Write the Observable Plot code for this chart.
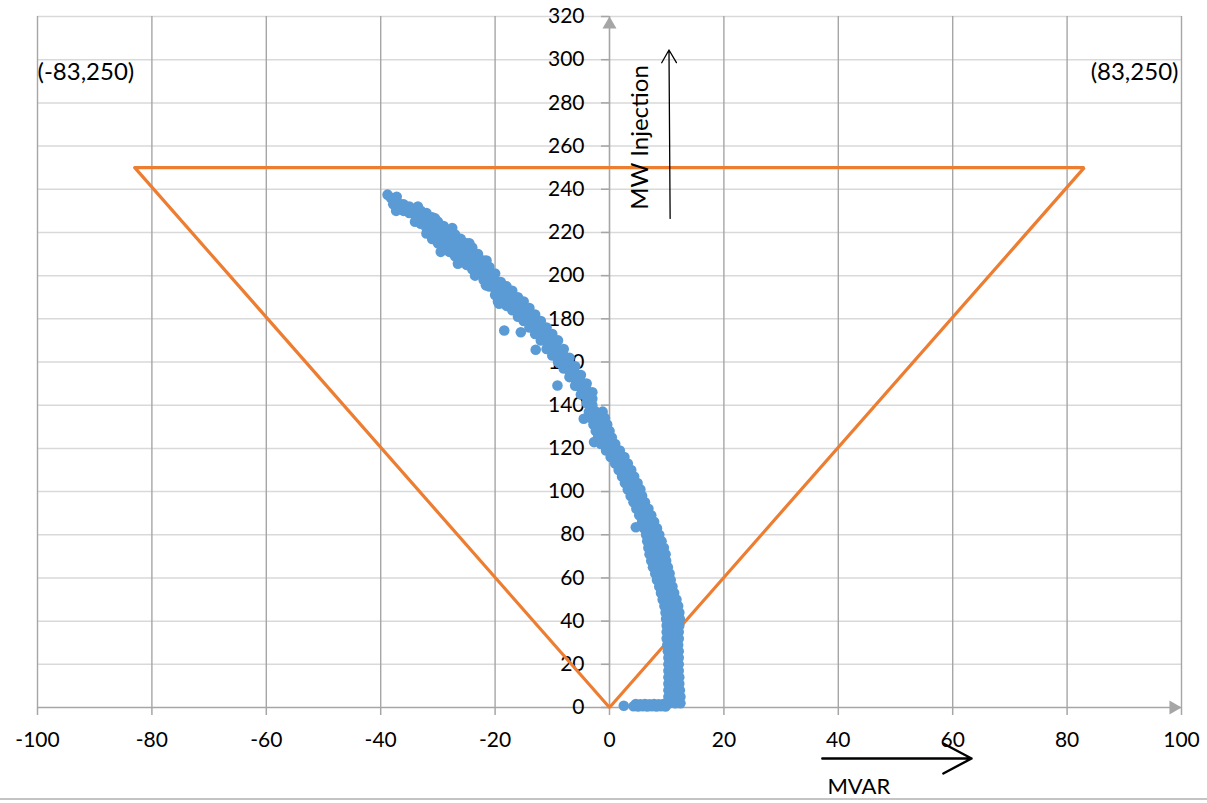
<!DOCTYPE html>
<html>
<head>
<meta charset="utf-8">
<script src="https://cdn.jsdelivr.net/npm/d3@7"></script>
<script src="https://cdn.jsdelivr.net/npm/@observablehq/plot@0.6"></script>
<style>
  body { margin: 0; background: #fff; }
  #chart svg { display: block; }
  .bottom-rule { width: 1207px; height: 0; border-top: 2px solid #c4c4c4; }
</style>
</head>
<body>
<div id="chart"></div>
<div class="bottom-rule"></div>
<script>
// ---- data ----
const xDomain = [-100, 100];
const yDomain = [0, 320];
const xTicks = [-100, -80, -60, -40, -20, 0, 20, 40, 60, 80, 100];
const yTicks = [0, 20, 40, 60, 80, 100, 120, 140, 160, 180, 200, 220, 240, 260, 280, 300, 320];
const boundary = [[-83, 250], [83, 250], [0, 0], [-83, 250]];
const cornerLabels = ["(-83,250)", "(83,250)"];
const xTitle = "MVAR";
const yTitle = "MW Injection";
// measured [MVAR, MW] samples
const readings = [
  [-38.8,237.5],[-38.2,236],[-37.8,233],[-37.2,236.5],[-37.3,230],[-36.5,233],
  [-36,233],[-36,230],[-35,232],[-35,229],[-34,231],[-34,228],[-34,225],
  [-33.5,232],[-33,230],[-33,227],[-33,224],
  [-32,229],[-32,225],[-32,222],[-32,219.5],
  [-31,227],[-31,223],[-31,220],[-31,217],
  [-30.5,226.5],[-30,225],[-30,221],[-30,218],[-30,215],
  [-29.5,211],[-29,223],[-29,220],[-29,216],[-29,213],
  [-28,221],[-28,218],[-28,214],[-28,211],
  [-27.5,222],[-27,219],[-27,215],[-27,212],[-27,209],
  [-26.5,205.5],[-26,217],[-26,213],[-26,210],[-26,207],
  [-25,215],[-25,211],[-25,208],[-25,205],
  [-24.5,215],[-24,213],[-24,209],[-24,206],[-24,203],
  [-23.5,200],[-23,210],[-23,207],[-23,204],[-23,201],
  [-22,207],[-22,204],[-22,201],[-22,198],
  [-21.5,207],[-21,204],[-21,201],[-21,198],[-21,195],
  [-20,201],[-20,198],[-20,194],[-20,191],
  [-19.5,188],[-19,197],[-19,194],[-19,191],[-19,188],
  [-18,195],[-18,192],[-18,189],[-18,186],
  [-17,193],[-17,190],[-17,187],[-17,184],
  [-16,190],[-16,187],[-16,184],[-16,181],
  [-15,188],[-15,185],[-15,182],[-15,179],
  [-14,185],[-14,182],[-14,179],[-14,176],
  [-13,182],[-13,179],[-13,176],[-13,173],
  [-12,179],[-12,176],[-12,173],[-12,170],
  [-11,176],[-11,173],[-11,170],[-11,166],
  [-10,173],[-10,170],[-10,166],[-10,163],
  [-9,170],[-9,166],[-9,163],[-9,160],
  [-8,166],[-8,163],[-8,160],[-8,157],
  [-7,162],[-7,159],[-7,156],[-7,153],
  [-6,158],[-6,155],[-6,152],[-6,149],
  [-5,154],[-5,151],[-5,148],[-5,145],
  [-4,150],[-4,147],[-4,144],[-4,141],
  [-3,146],[-3,143],[-3,140],
  [-3.6,137],[-2.4,137],[-1.2,137],
  [-3.2,134],[-2.0,134],[-0.8,134],
  [-2.8,131],[-1.6,131],[-0.4,131],
  [-2.4,128],[-1.2,128],[0,128],
  [-2.0,125],[-0.8,125],[0.4,125],
  [-1.5,122],[-0.3,122],[1.0,122],
  [-0.6,119],[0.6,119],[1.8,119],
  [0.2,116],[1.4,116],[2.6,116],
  [1.0,113],[2.1,113],[3.2,113],
  [1.6,110],[2.7,110],[3.8,110],
  [2.2,107],[3.3,107],[4.3,107],
  [2.7,104],[3.8,104],[4.9,104],
  [3.2,101],[4.3,101],[5.4,101],
  [3.7,98],[4.8,98],[5.7,98],
  [4.2,95],[5.3,95],[6.2,95],
  [4.7,92],[5.8,92],[6.8,92],
  [5.2,89],[6.3,89],[7.3,89],
  [5.7,86],[6.8,86],[7.8,86],
  [4.6,83.5],[6.0,83],[7.2,83],[8.3,83],
  [6.4,80],[7.6,80],[8.7,80],
  [6.6,77],[7.9,77],[9.1,77],
  [6.8,74],[8.1,74],[9.5,74],
  [7.0,71],[8.4,71],[9.8,71],
  [7.3,68],[8.6,68],[9.9,68],
  [7.6,65],[8.9,65],[10.2,65],
  [8.0,62],[9.2,62],[10.5,62],
  [8.3,59],[9.5,59],[10.7,59],
  [8.7,56],[9.9,56],[11.0,56],
  [9.0,53],[10.2,53],[11.3,53],
  [9.3,50],[10.5,50],[11.7,50],
  [9.6,47],[10.8,47],[12.0,47],
  [9.8,44],[11.0,44],[12.2,44],
  [9.9,41],[11.1,41],[12.3,41],
  [10.0,38],[11.1,38],[12.2,38],
  [10.0,35],[11.1,35],[12.1,35],
  [10.0,32],[11.1,32],[12.1,32],
  [10.1,29],[11.1,29],[12.0,29],
  [10.2,26],[11.2,26],[12.1,26],
  [10.3,23],[11.2,23],[12.1,23],
  [10.3,20],[11.3,20],[12.1,20],
  [10.3,17],[11.2,17],[12.1,17],
  [10.3,14],[11.3,14],[12.2,14],
  [10.3,11],[11.3,11],[12.2,11],
  [10.3,8],[11.4,8],[12.3,8],
  [10.3,5],[11.4,5],[12.4,5],
  [10.4,2],[11.5,2],[12.4,2],
  [4.2,0.6],[5.0,0.5],[5.8,0.6],[6.6,0.5],[7.4,0.6],[8.2,0.5],[9.0,0.6],[9.8,0.5],
  [4.6,1.6],[5.4,1.5],[6.2,1.6],[7.0,1.5],[7.8,1.6],[8.6,1.5],[9.4,1.6],[2.5,0.8],
  [-21.6,195.5],[-19.3,187],[-18.4,174.6],[-15.5,173.8],[-12.9,165.7],[-9.1,149.1],[-4.5,133.7],[-2.7,122.9]
];

// ---- layout ----
const W = 1207, H = 798;
const mL = 37, mR = 26, mT = 16, mB = 91;
const ux = (xDomain[1] - xDomain[0]) / (W - mL - mR); // data units per px (x)
const uy = (yDomain[1] - yDomain[0]) / (H - mT - mB); // data units per px (y)
const gridDark = "#a6a6a6", gridLight = "#d9d9d9";

const chart = Plot.plot({
  width: W, height: H,
  marginLeft: mL, marginRight: mR, marginTop: mT, marginBottom: mB,
  x: {domain: xDomain, axis: null},
  y: {domain: yDomain, axis: null},
  style: {fontFamily: "Lato, 'Open Sans', sans-serif", fontSize: "21px", background: "#fff", color: "#000", overflow: "visible"},
  marks: [
    Plot.ruleY(yTicks.filter(d => d > 0), {y: d => d, x1: xDomain[0], x2: xDomain[1], stroke: gridLight, strokeWidth: 1.5}),
    Plot.ruleX(xTicks.filter(d => d !== 0), {x: d => d, y1: yDomain[0], y2: yDomain[1], stroke: gridDark, strokeWidth: 1.4}),
    Plot.ruleX([0], {x: d => d, y1: yDomain[0], y2: yDomain[1], stroke: gridDark, strokeWidth: 1.6}),
    Plot.ruleY([0], {y: d => d, x1: xDomain[0], x2: xDomain[1], stroke: gridDark, strokeWidth: 1.6}),
    Plot.ruleY(yTicks, {y: d => d, x1: -8 * ux, x2: 0, stroke: gridDark, strokeWidth: 1.5}),
    Plot.ruleX(xTicks, {x: d => d, y1: -8 * uy, y2: 0, stroke: gridDark, strokeWidth: 1.5}),
    Plot.dot([yDomain[1]], {x: 0, y: d => d, symbol: "triangle", r: 5.2, fill: gridDark, stroke: null, dy: 8}),
    Plot.dot([xDomain[1]], {x: d => d, y: 0, symbol: "triangle", r: 5.2, fill: gridDark, stroke: null, dx: -8, rotate: 90}),
    Plot.text(yTicks, {x: 0, y: d => d, text: d => String(d), textAnchor: "end", dx: -25, fill: "#000"}),
    Plot.text(xTicks, {x: d => d, y: 0, text: d => String(d), textAnchor: "middle", dy: 33, fill: "#000"}),
    Plot.line(boundary, {x: d => d[0], y: d => d[1], stroke: "#ED7D31", strokeWidth: 3.2, strokeLinejoin: "miter"}),
    Plot.dot(readings, {x: d => d[0], y: d => d[1], r: 5.3, fill: "#5B9BD5", stroke: null}),
    Plot.text([cornerLabels[0]], {x: xDomain[0], y: 294, text: d => d, textAnchor: "start", fontSize: 24, fill: "#000"}),
    Plot.text([cornerLabels[1]], {x: xDomain[1], y: 294, text: d => d, textAnchor: "end", dx: -3, fontSize: 24, fill: "#000"}),
    Plot.text([yTitle], {x: 5.3, y: 264, text: d => d, rotate: -90, fontSize: 24, fill: "#000"}),
    Plot.arrow([yTitle], {x1: 10.6, y1: 226.5, x2: 10.4, y2: 304.5, stroke: "#000", strokeWidth: 1.3, headLength: 17, headAngle: 60}),
    Plot.text([xTitle], {x: 38.1, y: -36.6, text: d => d, textAnchor: "start", fontSize: 22, fill: "#000"}),
    Plot.arrow([xTitle], {x1: 37.2, y1: -23.6, x2: 63.3, y2: -23.6, stroke: "#000", strokeWidth: 2.4, headLength: 20, headAngle: 56})
  ]
});
document.getElementById("chart").appendChild(chart);
</script>
</body>
</html>
